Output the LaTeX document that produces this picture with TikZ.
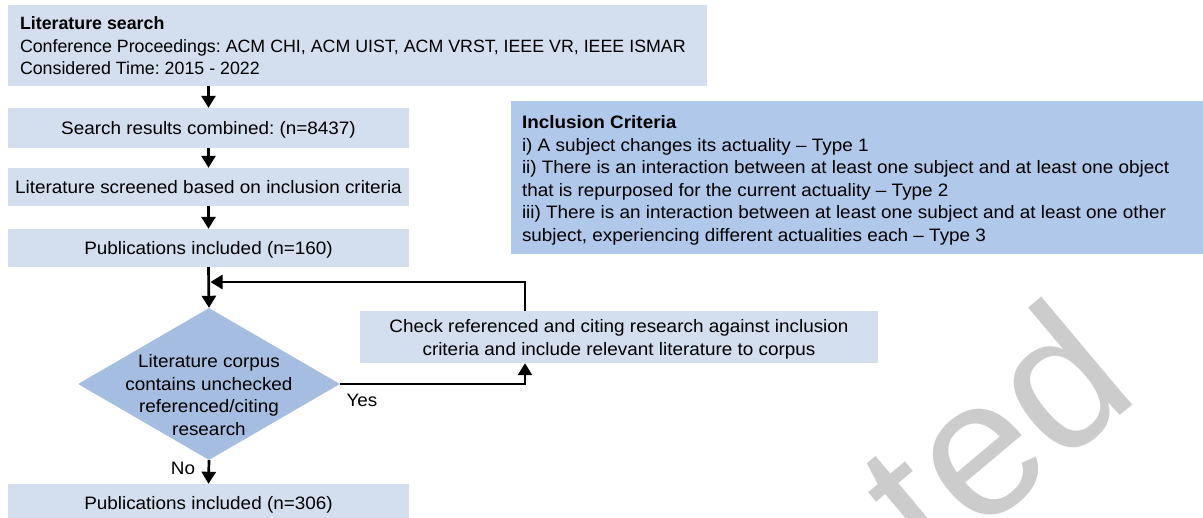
\documentclass[tikz,border=0pt]{standalone}
\usepackage{fontspec}
\setmainfont{Liberation Sans}[FakeStretch=1.05]
\newfontfamily\plainsans{Liberation Sans}
\usetikzlibrary{shapes.geometric,arrows.meta}
\definecolor{boxc}{HTML}{D3DEEE}
\definecolor{diac}{HTML}{A4BDE0}
\definecolor{inclc}{HTML}{B0C8EA}
\frenchspacing
\begin{document}
\begin{tikzpicture}[x=1pt,y=-1pt,
  font=\fontsize{18}{22.5}\selectfont,
  box/.style={fill=boxc, inner sep=0pt, align=center},
  one/.style={text height=13pt, text depth=0pt},
  arr/.style={line width=2.7pt, -{Triangle[width=14pt,length=12pt]}}]
\useasboundingbox (0,0) rectangle (1203,518);
% watermark
\node[rotate=40, anchor=base west, text=black!20, font=\plainsans\fontsize{195}{195}\selectfont, inner sep=0pt] (wm) at (932,574) {t\kern4pt ed};
% boxes
\node[box, minimum width=699pt, minimum height=81pt] (search) at (357.5,45.5) {};
\node[anchor=west, align=left, inner sep=0pt, font=\plainsans\fontsize{17.8}{22.5}\selectfont] (searcht) at ([xshift=12pt,yshift=-0.5pt]search.west)
  {\textbf{Literature search}\\Conference Proceedings: ACM CHI, ACM UIST, ACM VRST, IEEE VR, IEEE ISMAR\\Considered Time: 2015 - 2022};
\node[box, one, minimum width=401pt, minimum height=40pt] (comb) at (208.5,128) {Search results combined: (n=8437)};
\node[box, one, minimum width=401pt, minimum height=38pt] (scr) at (208.5,187) {Literature screened based on inclusion criteria};
\node[box, one, minimum width=401pt, minimum height=38pt] (p160) at (208.5,248) {Publications included (n=160)};
\node[diamond, fill=diac, inner sep=0pt, minimum width=262pt, minimum height=152pt, aspect=1.72] (dia) at (209,384) {};
\node[align=center, inner sep=0pt] (diat) at (209,395) {Literature corpus\\contains unchecked\\referenced/citing\\research};
\node[box, minimum width=518pt, minimum height=52pt] (check) at (619,337) {};
\node[align=center, inner sep=0pt] (checkt) at ([yshift=-2.5pt]check.center)
  {Check referenced and citing research against inclusion\\criteria and include relevant literature to corpus};
\node[box, one, minimum width=401pt, minimum height=38pt] (p306) at (208.5,503) {Publications included (n=306)};
\node[fill=inclc, inner sep=0pt, minimum width=692pt, minimum height=153pt] (incl) at (857,177.5) {};
\node[anchor=west, align=left, inner sep=0pt] (inclt) at ([xshift=11pt,yshift=-3pt]incl.west)
  {\textbf{Inclusion Criteria}\\
   i) A subject changes its actuality -- Type 1\\
   ii) There is an interaction between at least one subject and at least one object\\
   that is repurposed for the current actuality -- Type 2\\
   iii) There is an interaction between at least one subject and at least one other\\
   subject, experiencing different actualities each -- Type 3};
% connectors
\coordinate (merge) at (210.5,282);
\draw[arr] (search.south -| comb.north) -- (comb.north);
\draw[arr] (comb.south) -- (scr.north);
\draw[arr] (scr.south) -- (p160.north);
\draw[arr] (p160.south) -- (dia.north);
\draw[arr] ([xshift=-94pt]check.north) |- (merge);
\draw[arr] (dia.east) -| ([xshift=-94pt]check.south);
\draw[arr] (dia.south) -- (p306.north);
\node (yes) at (362,400) {Yes};
\node (no) at (183,468) {No};
\end{tikzpicture}
\end{document}
